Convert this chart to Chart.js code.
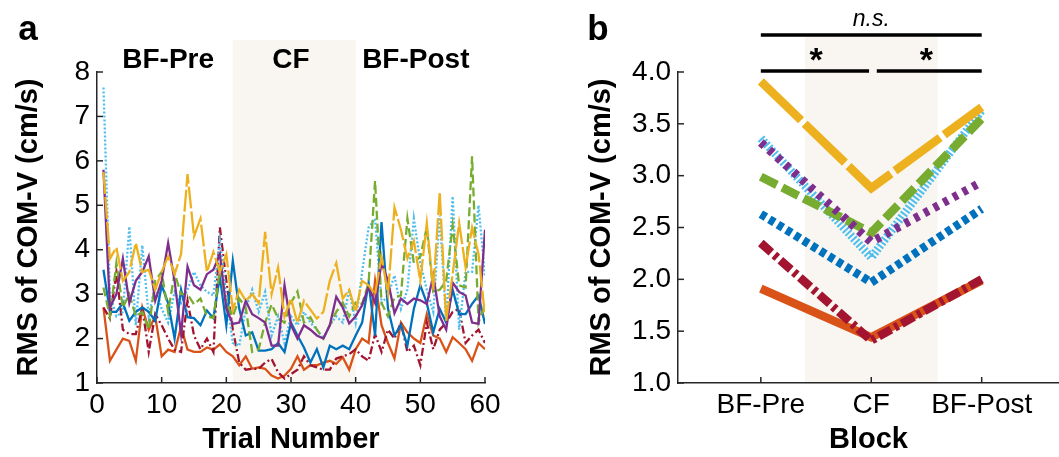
<!DOCTYPE html>
<html>
<head>
<meta charset="utf-8">
<script src="https://cdn.jsdelivr.net/npm/chart.js@4.4.1/dist/chart.umd.min.js"></script>
<style>
  html, body { margin: 0; padding: 0; background: #fff; }
  #wrap { position: relative; width: 1059px; height: 457px; }
  canvas { position: absolute; top: 0; }
  #chartA { left: 0; }
  #chartB { left: 520px; }
</style>
</head>
<body>
<div id="wrap">
  <canvas id="chartA" width="520" height="457"></canvas>
  <canvas id="chartB" width="539" height="457"></canvas>
</div>
<script>
// ---- data: panel a (RMS of COM-V per trial) ----
const trials = [1, 2, 3, 4, 5, 6, 7, 8, 9, 10, 11, 12, 13, 14, 15, 16, 17, 18, 19, 20,
  21, 22, 23, 24, 25, 26, 27, 28, 29, 30, 31, 32, 33, 34, 35, 36, 37, 38, 39, 40,
  41, 42, 43, 44, 45, 46, 47, 48, 49, 50, 51, 52, 53, 54, 55, 56, 57, 58, 59, 60];
const trialTicks = [0, 10, 20, 30, 40, 50, 60];

const yellowA = [5.75, 3.8, 4.05, 3.3, 3.5, 4.15, 3.5, 3.55, 3.1, 3.5, 3.85, 3.45, 3.9, 5.7, 4.3, 4.7, 3.5, 3.95, 3.5, 3.9,
  2.65, 3.1, 2.85, 3.0, 2.8, 4.4, 3.0, 3.6, 2.5, 2.9, 2.35, 2.85, 2.65, 2.45, 2.6, 3.3, 3.7, 2.9, 3.1, 2.6,
  3.3, 3.2, 3.0, 3.85, 3.0, 4.95, 4.45, 3.8, 4.2, 3.3, 4.6, 3.1, 5.3, 2.4, 3.45, 4.6, 3.6, 4.5, 3.9, 2.5];
const purpleA = [5.8, 2.7, 3.0, 3.8, 2.8, 3.3, 3.5, 3.85, 2.85, 3.3, 4.15, 3.3, 2.1, 3.62, 3.2, 3.1, 3.45, 3.55, 3.9, 2.67,
  2.33, 2.36, 2.85, 2.55, 2.46, 2.36, 1.84, 1.84, 3.2, 2.3, 2.0, 2.3, 2.2, 2.07, 2.0, 2.3, 2.94, 2.7, 2.34, 2.5,
  2.75, 3.17, 2.8, 3.7, 3.3, 2.57, 2.9, 2.78, 2.9, 2.86, 2.78, 3.42, 2.5, 2.2, 3.26, 3.05, 2.97, 2.36, 2.33, 4.45];
const greenA = [3.15, 2.5, 3.7, 2.7, 3.0, 2.5, 2.6, 2.2, 3.3, 3.5, 2.6, 3.47, 3.0, 3.0, 2.77, 2.9, 2.5, 2.46, 3.55, 2.8,
  2.5, 2.9, 2.7, 1.7, 1.76, 2.36, 2.77, 2.46, 2.36, 2.81, 3.06, 2.36, 2.48, 2.2, 2.0, 2.3, 2.6, 2.81, 2.5, 2.81,
  2.78, 3.25, 5.55, 2.8, 2.5, 2.93, 2.97, 4.7, 3.7, 3.85, 4.5, 3.05, 3.1, 3.3, 4.55, 3.2, 3.15, 6.1, 2.36, 2.77];
const blueA = [3.55, 2.6, 2.6, 2.8, 2.4, 2.6, 2.7, 2.6, 2.4, 3.2, 2.8, 2.0, 3.1, 2.48, 2.46, 2.3, 2.63, 2.46, 3.4, 2.3,
  3.75, 2.67, 2.07, 2.14, 1.73, 1.73, 1.76, 1.9, 1.7, 2.36, 2.07, 1.8, 1.46, 1.76, 1.35, 1.84, 1.76, 1.84, 1.76, 2.07,
  2.36, 3.26, 2.07, 4.62, 2.67, 2.07, 2.3, 1.84, 2.67, 3.2, 2.8, 2.14, 2.67, 2.36, 3.1, 2.55, 2.55, 2.78, 2.97, 2.33];
const lightBlueA = [7.65, 3.0, 2.5, 2.6, 4.52, 2.3, 4.1, 2.5, 3.2, 2.67, 2.36, 3.05, 2.8, 3.1, 3.5, 3.2, 3.05, 2.97, 4.2, 2.97,
  1.9, 1.84, 2.67, 3.1, 2.6, 3.05, 2.07, 2.5, 1.9, 2.5, 2.3, 2.6, 2.36, 2.2, 2.0, 2.3, 2.5, 2.36, 3.1, 2.36,
  3.5, 4.5, 4.7, 2.8, 2.97, 3.42, 2.67, 3.1, 4.7, 3.7, 3.1, 2.6, 4.77, 2.36, 5.2, 2.2, 3.5, 3.5, 5.0, 3.4];
const darkRedA = [2.7, 2.45, 3.5, 2.2, 2.1, 2.1, 2.7, 1.7, 2.55, 2.3, 2.0, 1.75, 1.7, 2.85, 2.07, 1.76, 2.0, 1.7, 4.5, 3.3,
  2.2, 1.46, 1.3, 1.32, 1.32, 1.46, 1.54, 1.24, 1.1, 1.2, 1.3, 1.6, 1.4, 1.35, 1.3, 1.3, 1.55, 1.6, 1.65, 1.76,
  1.6, 1.5, 2.1, 1.7, 2.2, 2.0, 2.36, 1.7, 1.84, 1.4, 2.36, 1.76, 2.2, 2.36, 2.6, 2.67, 1.9, 2.07, 2.2, 1.9];
const orangeA = [2.7, 1.5, 1.75, 2.0, 1.95, 1.5, 2.7, 2.2, 2.5, 1.6, 1.75, 1.7, 2.27, 1.75, 1.7, 1.7, 1.8, 1.75, 1.87, 1.7,
  1.6, 1.4, 1.6, 1.32, 1.35, 1.32, 1.17, 1.1, 1.17, 1.32, 1.6, 1.3, 1.4, 1.4, 1.46, 1.5, 1.43, 1.58, 1.3, 1.76,
  2.0, 1.9, 3.3, 2.3, 1.9, 1.55, 2.36, 2.14, 2.0, 1.9, 2.55, 2.07, 2.0, 1.7, 2.03, 1.9, 1.76, 1.5, 1.9, 1.76];

// ---- data: panel b (block means) ----
const blockNames = ["BF-Pre", "CF", "BF-Post"];
const blockPos = [1, 2, 3];
const yellowB = [3.91, 2.88, 3.66];
const lightBlueB = [3.36, 2.21, 3.63];
const purpleB = [3.32, 2.36, 2.94];
const greenB = [2.99, 2.45, 3.55];
const blueB = [2.63, 1.97, 2.68];
const darkRedB = [2.35, 1.41, 2.0];
const orangeB = [1.91, 1.44, 1.99];

// shaded CF window: trial range in panel a, block range in panel b
const cfTrials = [21, 40];
const cfBlockSpan = [1.4, 2.6];

const FONT = "'Liberation Sans', Arial, Helvetica, sans-serif";
const axisColor = "#262626";
const shadeColor = "#f9f6f1";
const tickFont = { family: FONT, size: 28 };
const titleFont = { family: FONT, size: 29, weight: "bold" };

const series = [
  { name: "yellow", color: "#EDB120", a: yellowA, b: yellowB, dashA: [22, 3], dashB: [56, 5], orderB: 2 },
  { name: "purple", color: "#7E2F8E", a: purpleA, b: purpleB, dashA: [], dashB: [5, 6], orderB: 3 },
  { name: "green", color: "#77AC30", a: greenA, b: greenB, dashA: [9, 4], dashB: [18, 6], orderB: 4 },
  { name: "blue", color: "#0072BD", a: blueA, b: blueB, dashA: [], dashB: [6, 4], orderB: 5 },
  { name: "lightblue", color: "#4DBEEE", a: lightBlueA, b: lightBlueB, dashA: [2, 2], dashB: [2, 2], orderB: 6 },
  { name: "darkred", color: "#A2142F", a: darkRedA, b: darkRedB, dashA: [8, 3, 2, 3], dashB: [14, 4, 4, 4], orderB: 0 },
  { name: "orange", color: "#D95319", a: orangeA, b: orangeB, dashA: [], dashB: [], orderB: 1 },
];

function line(ctx, x1, y1, x2, y2) {
  ctx.beginPath();
  ctx.moveTo(x1, y1);
  ctx.lineTo(x2, y2);
  ctx.stroke();
}

// MATLAB style ticks pointing into the axes
const inwardTicks = {
  id: "inwardTicks",
  afterDatasetsDraw(chart) {
    const { ctx, chartArea } = chart;
    const xs = chart.scales.x, ys = chart.scales.y;
    ctx.save();
    ctx.strokeStyle = axisColor;
    ctx.lineWidth = 1.5;
    xs.ticks.forEach((t) => {
      const px = xs.getPixelForValue(t.value);
      line(ctx, px, chartArea.bottom, px, chartArea.bottom - 6);
    });
    ys.ticks.forEach((t) => {
      const py = ys.getPixelForValue(t.value);
      line(ctx, chartArea.left, py, chartArea.left + 6, py);
    });
    ctx.restore();
  },
};

function shadePlugin(span, top) {
  return {
    id: "shade",
    beforeDraw(chart) {
      const { ctx, chartArea } = chart;
      const xs = chart.scales.x;
      const x1 = xs.getPixelForValue(span[0]);
      const x2 = xs.getPixelForValue(span[1]);
      ctx.save();
      ctx.fillStyle = shadeColor;
      ctx.fillRect(x1, top, x2 - x1, chartArea.bottom - top - 1);
      ctx.restore();
    },
  };
}

// x is in the panel's own canvas coordinates
function panelLetter(letter, x) {
  return {
    id: "letter",
    afterDraw(chart) {
      const ctx = chart.ctx;
      ctx.save();
      ctx.fillStyle = "#000";
      ctx.font = "bold 35px " + FONT;
      ctx.textAlign = "center";
      ctx.textBaseline = "middle";
      ctx.fillText(letter, x, 30);
      ctx.restore();
    },
  };
}

// ---- panel a ----
const blockLabelsA = {
  id: "blockLabels",
  afterDraw(chart) {
    const ctx = chart.ctx;
    const xs = chart.scales.x;
    const centers = [11, 30, 49.3];
    ctx.save();
    ctx.fillStyle = "#000";
    ctx.font = "bold 28px " + FONT;
    ctx.textAlign = "center";
    ctx.textBaseline = "middle";
    blockNames.forEach((n, i) => ctx.fillText(n, xs.getPixelForValue(centers[i]), 60));
    ctx.restore();
  },
};

new Chart(document.getElementById("chartA"), {
  type: "line",
  data: {
    datasets: series.map((s) => ({
      label: s.name,
      data: trials.map((t, i) => ({ x: t, y: s.a[i] })),
      borderColor: s.color,
      borderWidth: 2.3,
      borderDash: s.dashA,
      pointRadius: 0,
      tension: 0,
      fill: false,
    })),
  },
  options: {
    responsive: false,
    animation: false,
    layout: { padding: { top: 72, right: 35, left: 0, bottom: 0 } },
    plugins: { legend: { display: false }, tooltip: { enabled: false } },
    scales: {
      x: {
        type: "linear",
        min: 0,
        max: 60,
        afterBuildTicks: (s) => { s.ticks = trialTicks.map((v) => ({ value: v })); },
        afterFit: (s) => { s.height = 74; },
        grid: { display: false, drawTicks: false },
        border: { display: true, color: axisColor, width: 1.5 },
        ticks: { color: "#000", font: tickFont, padding: 5, maxRotation: 0 },
        title: { display: true, text: "Trial Number", color: "#000", font: titleFont, padding: { bottom: 0 } },
      },
      y: {
        min: 1,
        max: 8,
        afterFit: (s) => { s.width = 97; },
        grid: { display: false, drawTicks: false },
        border: { display: true, color: axisColor, width: 1.5 },
        ticks: { stepSize: 1, color: "#000", font: tickFont, padding: 7 },
        title: { display: true, text: "RMS of COM-V (cm/s)", color: "#000", font: titleFont, padding: { top: 12 } },
      },
    },
  },
  plugins: [shadePlugin(cfTrials, 40), inwardTicks, blockLabelsA, panelLetter("a", 28)],
});

// ---- panel b ----
const sigMarks = {
  id: "sigMarks",
  afterDraw(chart) {
    const ctx = chart.ctx;
    const xs = chart.scales.x;
    const p = (v) => xs.getPixelForValue(v);
    ctx.save();
    ctx.strokeStyle = "#000";
    ctx.fillStyle = "#000";
    ctx.lineWidth = 3.5;
    line(ctx, p(1), 35, p(3), 35);
    line(ctx, p(1), 71, p(1.98), 71);
    line(ctx, p(2.05), 71, p(3), 71);
    ctx.textAlign = "center";
    ctx.textBaseline = "middle";
    ctx.font = "italic 23px " + FONT;
    ctx.fillText("n.s.", p(2), 20);
    ctx.font = "bold 34px " + FONT;
    ctx.fillText("*", p(1.5), 62);
    ctx.fillText("*", p(2.5), 62);
    ctx.restore();
  },
};

new Chart(document.getElementById("chartB"), {
  type: "line",
  data: {
    datasets: series.map((s) => ({
      label: s.name,
      data: blockPos.map((x, i) => ({ x: x, y: s.b[i] })),
      borderColor: s.color,
      borderWidth: 8.5,
      borderDash: s.dashB,
      borderCapStyle: "butt",
      pointRadius: 0,
      tension: 0,
      fill: false,
      order: s.orderB,
    })),
  },
  options: {
    responsive: false,
    animation: false,
    layout: { padding: { top: 72, right: 0, left: 0, bottom: 0 } },
    plugins: { legend: { display: false }, tooltip: { enabled: false } },
    scales: {
      x: {
        type: "linear",
        min: 0.25,
        max: 3.7,
        afterBuildTicks: (s) => { s.ticks = blockPos.map((v) => ({ value: v })); },
        afterFit: (s) => { s.height = 74; },
        grid: { display: false, drawTicks: false },
        border: { display: true, color: axisColor, width: 1.5 },
        ticks: {
          color: "#000",
          font: tickFont,
          padding: 5,
          maxRotation: 0,
          callback: (v) => blockNames[blockPos.indexOf(v)],
        },
        title: { display: true, text: "Block", color: "#000", font: titleFont, padding: { bottom: 0 } },
      },
      y: {
        min: 1,
        max: 4,
        afterFit: (s) => { s.width = 158; },
        grid: { display: false, drawTicks: false },
        border: { display: true, color: axisColor, width: 1.5 },
        ticks: { stepSize: 0.5, color: "#000", font: tickFont, padding: 7, callback: (v) => v.toFixed(1) },
        title: { display: true, text: "RMS of COM-V (cm/s)", color: "#000", font: titleFont, padding: { top: 65 } },
      },
    },
  },
  plugins: [shadePlugin(cfBlockSpan, 37), inwardTicks, sigMarks, panelLetter("b", 78)],
});
</script>
</body>
</html>
